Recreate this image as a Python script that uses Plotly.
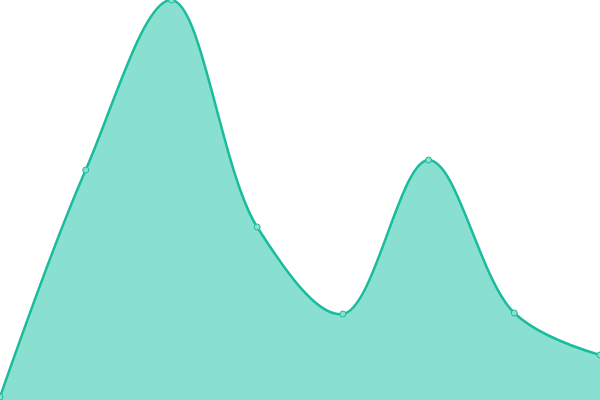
import plotly.graph_objects as go

x_vals = [0, 1, 2, 3, 4, 5, 6, 7]
y_vals = [0.3, 23.0, 40.0, 17.3, 8.6, 24.0, 8.7, 4.5]

fig = go.Figure()
fig.add_trace(go.Scatter(
    x=x_vals, y=y_vals,
    mode='lines+markers',
    line=dict(color='#1abc9c', width=2.5, shape='spline', smoothing=1),
    marker=dict(size=6, color='#8ae0d0', line=dict(color='#1abc9c', width=1)),
    fill='tozeroy',
    fillcolor='#8ae0d0',
    cliponaxis=False,
    hoverinfo='skip',
))

fig.update_layout(
    width=600, height=400,
    margin=dict(l=0, r=0, t=0, b=0, pad=0, autoexpand=False),
    paper_bgcolor='white', plot_bgcolor='white',
    showlegend=False,
    xaxis=dict(visible=False, range=[0, 7]),
    yaxis=dict(visible=False, range=[0, 40]),
)

# page has the default 8px body margin, drop it so the plot sits at 0,0
fig.write_html("out.html",
               config={'displayModeBar': False},
               post_script="document.body.style.margin='0';document.body.style.overflow='hidden';")
